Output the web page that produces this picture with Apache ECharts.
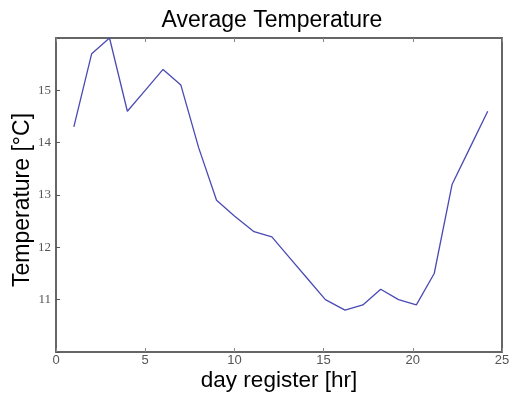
<!DOCTYPE html>
<html>
<head>
<meta charset="utf-8">
<script src="https://cdn.jsdelivr.net/npm/echarts@6/dist/echarts.min.js"></script>
<style>
html,body{margin:0;padding:0;background:#fff;}
#c{width:509px;height:394px;}
</style>
</head>
<body>
<div id="c"></div>
<script>
var titleText = 'Average Temperature';
var xName = 'day register [hr]';
var yName = 'Temperature [°C]';
var hours = [1, 2, 3, 4, 5, 6, 7, 8, 9, 10, 11.1, 12.1, 13.1, 14.1, 15.1, 16.2, 17.2, 18.2, 19.2, 20.2, 21.2, 22.2, 23.2, 24.2];
var temps = [14.3, 15.7, 16.0, 14.6, 15.0, 15.4, 15.1, 13.9, 12.9, 12.6, 12.3, 12.2, 11.8, 11.4, 11.0, 10.8, 10.9, 11.2, 11.0, 10.9, 11.5, 13.2, 13.9, 14.6];
var xTicks = [0, 5, 10, 15, 20, 25];
var yTicks = [11, 12, 13, 14, 15];

var chart = echarts.init(document.getElementById('c'), null, {renderer: 'canvas'});
var axisCol = '#666';
var option = {
  animation: false,
  backgroundColor: '#fff',
  title: {
    text: titleText, left: 267, textAlign: 'center', top: 4,
    textStyle: {fontFamily: 'Liberation Sans', fontSize: 23, fontWeight: 'normal', color: '#000'}
  },
  grid: {left: 56, right: 7, top: 38, bottom: 42, containLabel: false, outerBoundsMode: 'none'},
  xAxis: [{
    type: 'value', min: 0, max: 25, interval: 5, position: 'bottom',
    name: xName, nameLocation: 'middle', nameGap: 17, nameMoveOverlap: false,
    nameTextStyle: {fontFamily: 'Liberation Sans', fontSize: 22.5, color: '#000'},
    axisLine: {show: true, lineStyle: {color: axisCol, width: 2}},
    axisTick: {show: true, inside: true, length: 4, lineStyle: {color: '#888'}},
    axisLabel: {margin: 2, fontFamily: 'Liberation Sans', fontSize: 13, color: '#555',
      formatter: function (v) { return xTicks.indexOf(v) >= 0 ? String(v) : ''; }},
    splitLine: {show: false}
  }, {
    type: 'value', min: 0, max: 25, interval: 5, position: 'top',
    axisLine: {show: true, onZero: false, lineStyle: {color: axisCol, width: 2}},
    axisTick: {show: true, inside: true, length: 4, lineStyle: {color: '#888'}},
    axisLabel: {show: false}, splitLine: {show: false}
  }],
  yAxis: [{
    type: 'value', min: 10, max: 16, interval: 1, position: 'left',
    name: yName, nameLocation: 'middle', nameGap: 22, nameMoveOverlap: false,
    nameTextStyle: {fontFamily: 'Liberation Sans', fontSize: 23, color: '#000', padding: [0, 10, 0, 0]},
    axisLine: {show: true, onZero: false, lineStyle: {color: axisCol, width: 2}},
    axisTick: {show: true, inside: true, length: 4, lineStyle: {color: '#555'}},
    axisLabel: {margin: 5, fontFamily: 'Liberation Serif', fontSize: 13, color: '#555',
      formatter: function (v) { return yTicks.indexOf(v) >= 0 ? String(v) : ''; }},
    splitLine: {show: false}
  }, {
    type: 'value', min: 10, max: 16, interval: 1, position: 'right',
    axisLine: {show: true, onZero: false, lineStyle: {color: axisCol, width: 2}},
    axisTick: {show: false}, axisLabel: {show: false}, splitLine: {show: false}
  }],
  series: [{
    type: 'line', xAxisIndex: 0, yAxisIndex: 0,
    data: hours.map(function (h, i) { return [h, temps[i]]; }),
    showSymbol: false, symbol: 'none',
    lineStyle: {color: '#4a4ab4', width: 1.3},
    clip: false
  }]
};
chart.setOption(option);
</script>
</body>
</html>
